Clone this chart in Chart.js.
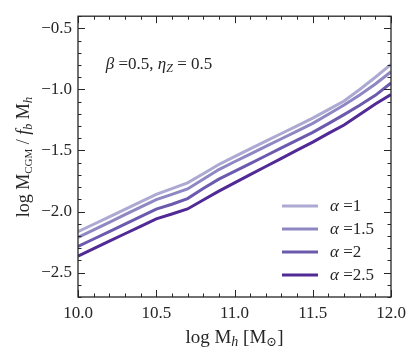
<!DOCTYPE html>
<html>
<head>
<meta charset="utf-8">
<script src="https://cdn.jsdelivr.net/npm/chart.js@4.4.1/dist/chart.umd.min.js"></script>
<style>
  html, body { margin: 0; padding: 0; background: #fff; }
  #wrap { width: 415px; height: 356px; }
</style>
</head>
<body>
<div id="wrap"><canvas id="c" width="415" height="356"></canvas></div>
<script>
// log M_h grid
const massValues = [10.0, 10.1, 10.2, 10.3, 10.4, 10.5, 10.6, 10.7, 10.8, 10.9, 11.0,
                    11.1, 11.2, 11.3, 11.4, 11.5, 11.6, 11.7, 11.8, 11.9, 12.0];

// log M_CGM / f_b M_h for each alpha
const alpha1 = [-2.165, -2.104, -2.043, -1.982, -1.921, -1.860, -1.812, -1.765, -1.690, -1.615, -1.550,
                -1.487, -1.424, -1.361, -1.298, -1.235, -1.165, -1.095, -1.000, -0.900, -0.795];
const alpha15 = [-2.212, -2.150, -2.088, -2.026, -1.964, -1.902, -1.860, -1.815, -1.735, -1.656, -1.592,
                 -1.530, -1.467, -1.404, -1.341, -1.278, -1.203, -1.128, -1.045, -0.955, -0.855];
const alpha2 = [-2.286, -2.225, -2.164, -2.103, -2.042, -1.980, -1.940, -1.894, -1.812, -1.735, -1.671,
                -1.607, -1.543, -1.479, -1.415, -1.352, -1.280, -1.206, -1.130, -1.048, -0.947];
const alpha25 = [-2.365, -2.304, -2.243, -2.182, -2.121, -2.060, -2.020, -1.979, -1.905, -1.833, -1.765,
                 -1.698, -1.631, -1.564, -1.497, -1.431, -1.360, -1.291, -1.205, -1.119, -1.042];

const seriesLabels = ['1', '1.5', '2', '2.5'];
const seriesColors = ['#aca9d3', '#8e87c3', '#6c5aae', '#512a96'];

const xTicks = [10.0, 10.5, 11.0, 11.5, 12.0];
const yTicks = [-2.5, -2.0, -1.5, -1.0, -0.5];

const SERIF = "'Liberation Serif', 'DejaVu Serif', serif";
const INK = '#262626';

function font(size, italic) {
    return (italic ? 'italic ' : '') + size + 'px ' + SERIF;
}

// draws a list of text runs (normal / italic / subscript) centred on x,y
function drawRuns(ctx, runs, x, y) {
    let total = 0;
    runs.forEach(r => {
        ctx.font = font(r.size, r.it);
        r.w = ctx.measureText(r.t).width;
        total += r.w;
    });
    let cx = x - total / 2;
    runs.forEach(r => {
        ctx.font = font(r.size, r.it);
        ctx.fillText(r.t, cx, y + (r.dy || 0));
        cx += r.w;
    });
}

const framePlugin = {
    id: 'frame',
    afterDraw(chart) {
        const { ctx, chartArea: a, scales } = chart;
        const xs = scales.x, ys = scales.y;
        ctx.save();

        // inward ticks on all four sides
        ctx.strokeStyle = INK;
        ctx.lineWidth = 1;
        ctx.beginPath();
        for (let i = 0; i <= 20; i++) {
            const v = 10 + i * 0.1;
            const px = Math.round(xs.getPixelForValue(v)) + 0.5;
            const len = (i % 5 === 0) ? 7 : 3.5;
            ctx.moveTo(px, a.bottom); ctx.lineTo(px, a.bottom - len);
            ctx.moveTo(px, a.top); ctx.lineTo(px, a.top + len);
        }
        for (let i = 0; i <= 23; i++) {
            const v = -2.7 + i * 0.1;
            const py = Math.round(ys.getPixelForValue(v)) + 0.5;
            const major = Math.abs(v * 2 - Math.round(v * 2)) < 1e-6;
            const len = major ? 7 : 3.5;
            ctx.moveTo(a.left, py); ctx.lineTo(a.left + len, py);
            ctx.moveTo(a.right, py); ctx.lineTo(a.right - len, py);
        }
        ctx.stroke();

        // frame
        ctx.lineWidth = 1.3;
        ctx.strokeRect(a.left, a.top, a.right - a.left, a.bottom - a.top);

        ctx.fillStyle = INK;
        ctx.textBaseline = 'alphabetic';
        ctx.textAlign = 'left';

        // x axis title
        drawRuns(ctx, [
            { t: 'log M', size: 19 },
            { t: 'h', size: 14, it: true, dy: 3 },
            { t: ' [M', size: 19 },
            { t: '\u2299', size: 13, dy: 3 },
            { t: ']', size: 19 }
        ], (a.left + a.right) / 2, 343);

        // y axis title
        ctx.save();
        ctx.translate(29, 157);
        ctx.rotate(-Math.PI / 2);
        drawRuns(ctx, [
            { t: 'log M', size: 18 },
            { t: 'CGM', size: 11, dy: 3 },
            { t: ' / ', size: 18 },
            { t: 'f', size: 18, it: true },
            { t: 'b', size: 12, it: true, dy: 3 },
            { t: ' M', size: 18 },
            { t: 'h', size: 13, it: true, dy: 3 }
        ], 0, 0);
        ctx.restore();

        // parameter annotation
        drawRuns(ctx, [
            { t: '\u03b2', size: 17, it: true },
            { t: ' =0.5, ', size: 17 },
            { t: '\u03b7', size: 17, it: true },
            { t: 'Z', size: 12, it: true, dy: 3 },
            { t: ' = 0.5', size: 17 }
        ], 159, 69);

        // legend
        const rowY = [206, 229, 252, 275];
        chart.data.datasets.forEach((ds, i) => {
            ctx.strokeStyle = ds.borderColor;
            ctx.lineWidth = 3;
            ctx.beginPath();
            ctx.moveTo(282, rowY[i]);
            ctx.lineTo(318, rowY[i]);
            ctx.stroke();
            ctx.fillStyle = INK;
            ctx.textAlign = 'left';
            ctx.font = font(17, true);
            ctx.fillText('\u03b1', 330, rowY[i] + 5);
            const aw = ctx.measureText('\u03b1').width;
            ctx.font = font(17, false);
            ctx.fillText(' =' + seriesLabels[i], 330 + aw, rowY[i] + 5);
        });

        ctx.restore();
    }
};

const allSeries = [alpha1, alpha15, alpha2, alpha25];

new Chart(document.getElementById('c'), {
    type: 'line',
    data: {
        datasets: allSeries.map((vals, i) => ({
            label: '\u03b1 =' + seriesLabels[i],
            data: massValues.map((m, j) => ({ x: m, y: vals[j] })),
            borderColor: seriesColors[i],
            backgroundColor: seriesColors[i],
            borderWidth: 3,
            pointRadius: 0,
            tension: 0,
            fill: false
        }))
    },
    options: {
        responsive: false,
        animation: false,
        devicePixelRatio: 1,
        layout: { padding: { top: 9, right: 24, left: 0, bottom: 0 } },
        plugins: { legend: { display: false }, tooltip: { enabled: false } },
        scales: {
            x: {
                type: 'linear',
                min: 10, max: 12,
                afterBuildTicks: s => { s.ticks = xTicks.map(v => ({ value: v })); },
                afterFit: s => { s.height = 59; },
                grid: { display: false, drawTicks: false },
                border: { display: false },
                ticks: {
                    color: INK,
                    padding: 6,
                    maxRotation: 0,
                    font: { family: SERIF, size: 17 },
                    callback: v => v.toFixed(1)
                }
            },
            y: {
                type: 'linear',
                min: -2.7, max: -0.4,
                afterBuildTicks: s => { s.ticks = yTicks.map(v => ({ value: v })); },
                afterFit: s => { s.width = 78; },
                grid: { display: false, drawTicks: false },
                border: { display: false },
                ticks: {
                    color: INK,
                    padding: 6,
                    font: { family: SERIF, size: 17 },
                    callback: v => (v < 0 ? '\u2212' : '') + Math.abs(v).toFixed(1)
                }
            }
        }
    },
    plugins: [framePlugin]
});
</script>
</body>
</html>
